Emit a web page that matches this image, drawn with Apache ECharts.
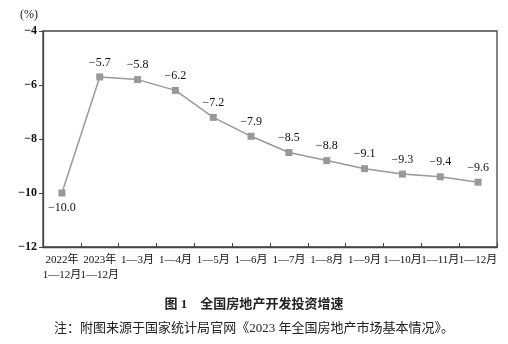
<!DOCTYPE html>
<html><head><meta charset="utf-8">
<script src="https://cdn.jsdelivr.net/npm/echarts@6/dist/echarts.min.js"></script>
<style>html,body{margin:0;padding:0;background:#fff}#c{width:508px;height:344px}</style>
</head><body><div id="c"></div>
<script>
const categories = ['2022年\n1—12月','2023年\n1—12月','1—3月','1—4月','1—5月','1—6月','1—7月','1—8月','1—9月','1—10月','1—11月','1—12月'];
const values = [-10.0,-5.7,-5.8,-6.2,-7.2,-7.9,-8.5,-8.8,-9.1,-9.3,-9.4,-9.6];
const yTicks = [-12,-10,-8,-6,-4];
const FONT = '"Liberation Serif","Noto Sans CJK SC",serif';
const fmt = v => (v < 0 ? '\u2212' : '') + Math.abs(v).toFixed(1);
const chart = echarts.init(document.getElementById('c'), null, {renderer:'canvas'});
chart.setOption({
  animation:false,
  textStyle:{fontFamily:FONT},
  grid:{left:43,right:11,top:31,bottom:97,show:true,borderColor:'#444',borderWidth:1.3,backgroundColor:'transparent'},
  title:[
    {text:'图 1　全国房地产开发投资增速',left:'center',top:293,textStyle:{fontFamily:FONT,fontSize:13,fontWeight:'bold',color:'#222'}},
    {text:'注：附图来源于国家统计局官网《2023 年全国房地产市场基本情况》。',left:'center',top:317,textStyle:{fontFamily:FONT,fontSize:13,fontWeight:'normal',color:'#222'}}
  ],
  graphic:[{type:'text',left:20,top:9,style:{text:'(%)',font:'12px '+FONT,fill:'#222'}}],
  xAxis:{type:'category',data:categories,boundaryGap:true,
    axisLine:{show:true,lineStyle:{color:'#444',width:1.3}},
    axisTick:{show:true,inside:true,length:4,alignWithLabel:false,lineStyle:{color:'#444'}},
    axisLabel:{interval:0,color:'#111',fontSize:11,fontFamily:FONT,margin:6,lineHeight:15,align:'center',verticalAlign:'top'},
    splitLine:{show:false}},
  yAxis:{type:'value',min:-12,max:-4,interval:2,
    axisLine:{show:true,lineStyle:{color:'#444',width:1.3}},
    axisTick:{show:true,length:4,lineStyle:{color:'#444'}},
    axisLabel:{color:'#111',fontSize:12,fontFamily:FONT,margin:6,fontWeight:'bold',formatter:v=>(v<0?'\u2212':'')+Math.abs(v)},
    splitLine:{show:false}},
  series:[{type:'line',data:values.map((v,i)=>({value:v,label:{position:i===0?'bottom':'top'}})),
    symbol:'rect',symbolSize:7,
    lineStyle:{color:'#999',width:1.5},
    itemStyle:{color:'#999'},
    label:{show:true,position:'top',distance:5,color:'#111',fontSize:12,fontFamily:FONT,formatter:p=>fmt(p.value)}}]
});
</script></body></html>
